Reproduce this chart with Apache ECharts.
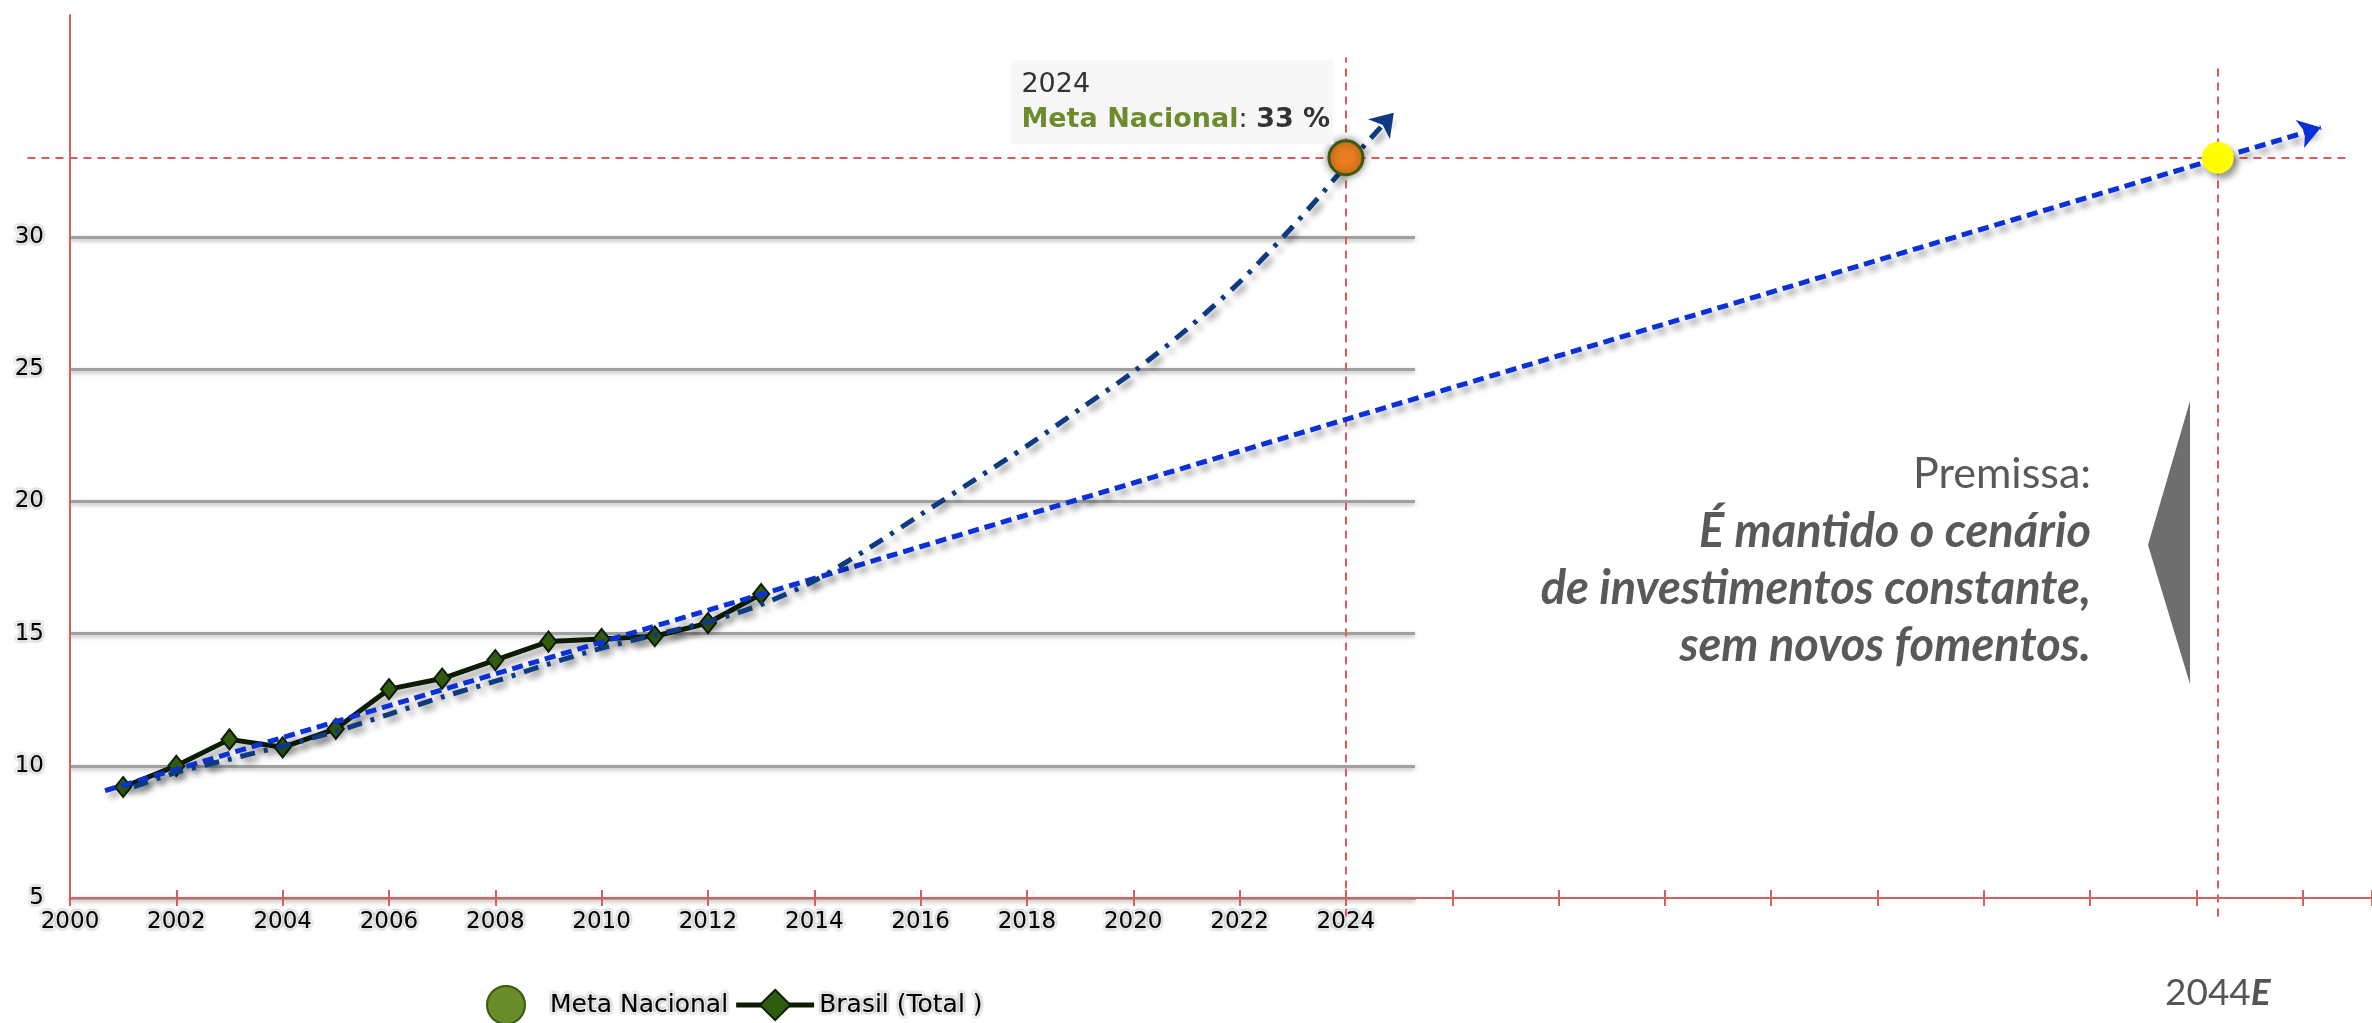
<!DOCTYPE html>
<html>
<head>
<meta charset="utf-8">
<title>Meta Nacional x Brasil (Total)</title>
<script src="https://cdn.jsdelivr.net/npm/echarts@6/dist/echarts.min.js"></script>
<style>
  html, body { margin: 0; padding: 0; background: #fff; }
  #chart { width: 2372px; height: 1023px; }
</style>
</head>
<body>
<div id="chart"></div>
<script>
// série Brasil (Total)
const brasilYears = [2001, 2002, 2003, 2004, 2005, 2006, 2007, 2008, 2009, 2010, 2011, 2012, 2013];
const brasilValues = [9.2, 10.0, 11.0, 10.7, 11.4, 12.9, 13.3, 14.0, 14.7, 14.8, 14.9, 15.4, 16.5];

// meta nacional
const metaYears = [2024];
const metaValues = [33];

// curva traço-ponto até a meta
const curveYears = [2001.2, 2002, 2003, 2004, 2005, 2006, 2007, 2008, 2009, 2010, 2011, 2012,
  2013, 2014, 2015, 2016, 2017, 2018, 2019, 2020, 2021, 2022, 2023, 2024];
const curveValues = [9.2, 9.75, 10.25, 10.75, 11.3, 11.95, 12.6, 13.2, 13.85, 14.45, 14.95, 15.45,
  16.1, 17.0, 18.2, 19.5, 20.8, 22.1, 23.5, 24.9, 26.5, 28.3, 30.4, 32.7];
const curveTipYears = [2024, 2024.9];
const curveTipValues = [32.7, 34.7];

// reta tracejada (investimento constante)
const trendYears = [2000.66, 2042.34];
const trendValues = [9.06, 34.14];

// ponto estimado
const projYears = [2040.4];
const projValues = [33];
const projLabel = ['2044', 'E'];

// eixos
const xMin = 2000, xStep = 2, xLastLabel = 2024;
const yMin = 5, yMax = 30, yStep = 5;

// extensão das linhas de referência tracejadas
const refBottom = 4.3, refTop = [36.8, 36.4], refLeft = 1999.2, refRight = 2042.8;

const red = '#d95f5f';
const labelFont = "'DejaVu Sans', sans-serif";
const halo = {
  color: '#000',
  fontFamily: labelFont,
  fontSize: 23,
  textBorderColor: '#fff',
  textBorderWidth: 3,
  textShadowColor: 'rgba(0,0,0,0.35)',
  textShadowBlur: 3
};
const shadow = {shadowColor: 'rgba(0,0,0,0.4)', shadowBlur: 6, shadowOffsetX: 4, shadowOffsetY: 5};

let myChart = echarts.init(document.getElementById('chart'));
myChart.setOption({
  animation: false,
  backgroundColor: '#fff',
  grid: [
    {left: 70, top: 237, width: 1345, height: 661},   // área do gráfico original
    {left: 70, top: 15, width: 2302, height: 883}     // extensão da projeção
  ],
  xAxis: [
    {
      gridIndex: 0, type: 'value', min: xMin, max: 2025.3, interval: xStep,
      axisLine: {lineStyle: {color: '#a8a8a8', width: 3}},
      axisTick: {length: 5, lineStyle: {color: '#9fb2c6'}},
      axisLabel: Object.assign({}, halo, {
        margin: 13,
        showMaxLabel: false,
        formatter: v => (v <= xLastLabel && v % xStep === 0) ? String(v) : ''
      }),
      splitLine: {show: false}
    },
    {
      gridIndex: 1, type: 'value', position: 'bottom', min: xMin, max: 2043.3, interval: xStep, z: 5,
      axisLine: {lineStyle: {color: red, width: 2}},
      axisTick: {length: 8, lineStyle: {color: red, width: 2}},
      axisLabel: {show: false},
      splitLine: {show: false}
    },
    {
      gridIndex: 1, type: 'value', position: 'bottom', min: xMin, max: 2043.3, interval: xStep, z: 5,
      axisLine: {lineStyle: {color: red, width: 2}},
      axisTick: {inside: true, length: 8, lineStyle: {color: red, width: 2}},
      axisLabel: {show: false},
      splitLine: {show: false}
    }
  ],
  yAxis: [
    {
      gridIndex: 0, type: 'value', min: yMin, max: yMax, interval: yStep,
      axisLine: {show: false},
      axisTick: {show: false},
      axisLabel: Object.assign({}, halo, {margin: 26}),
      splitLine: {
        lineStyle: {
          color: '#a0a0a0', width: 3,
          shadowColor: 'rgba(0,0,0,0.3)', shadowBlur: 4, shadowOffsetY: 2
        }
      }
    },
    {
      gridIndex: 1, type: 'value', min: yMin, max: 38.4, z: 5,
      axisLine: {show: true, lineStyle: {color: red, width: 2}},
      axisTick: {show: false},
      axisLabel: {show: false},
      splitLine: {show: false}
    }
  ],
  legend: {
    data: ['Meta Nacional', 'Brasil (Total )'],
    left: 481,
    top: 980,
    itemWidth: 78,
    itemHeight: 38,
    itemGap: 4,
    lineStyle: {width: 5},
    textStyle: Object.assign({}, halo, {fontSize: 25})
  },
  graphic: [
    {
      type: 'text',
      x: 2091,
      y: 446,
      style: {
        text: '{p|Premissa:}\n{b|É mantido o cenário}\n{b|de investimentos constante,}\n{b|sem novos fomentos.}',
        align: 'right',
        verticalAlign: 'top',
        rich: {
          p: {fontFamily: 'Lato', fontSize: 43, lineHeight: 57, fill: '#595959', align: 'right'},
          b: {fontFamily: 'Lato', fontSize: 47, lineHeight: 57, fill: '#595959', fontWeight: 'bold', fontStyle: 'italic', align: 'right'}
        }
      }
    },
    {
      type: 'polygon',
      shape: {points: [[2190, 401], [2148, 545], [2190, 684]]},
      style: {fill: '#6e6e6e'}
    }
  ],
  series: [
    {
      name: 'Referências',
      type: 'lines',
      coordinateSystem: 'cartesian2d',
      xAxisIndex: 1, yAxisIndex: 1,
      clip: false,
      silent: true,
      z: 2,
      symbol: ['none', 'none'],
      lineStyle: {color: red, width: 2, type: [8, 6], opacity: 1},
      label: {show: false},
      data: [
        {coords: [[metaYears[0], refBottom], [metaYears[0], refTop[0]]]},
        {
          coords: [[projYears[0], refBottom], [projYears[0], refTop[1]]],
          label: {
            show: true,
            position: 'start',
            distance: 58,
            formatter: '{a|' + projLabel[0] + '}{b|' + projLabel[1] + '}',
            rich: {
              a: {fontFamily: 'Lato', fontSize: 37, color: '#555'},
              b: {fontFamily: 'Lato', fontSize: 37, color: '#555', fontWeight: 'bold', fontStyle: 'italic'}
            }
          }
        },
        {coords: [[refLeft, metaValues[0]], [refRight, metaValues[0]]]}
      ]
    },
    {
      name: 'Meta Nacional',
      type: 'scatter',
      xAxisIndex: 1, yAxisIndex: 1,
      clip: false,
      z: 6,
      symbolSize: 34,
      itemStyle: {color: '#6a8c2a', borderColor: '#3a5a10', borderWidth: 3, opacity: 1},
      data: metaYears.map((x, i) => ({
        value: [x, metaValues[i]],
        itemStyle: {
          color: '#ea7f1f', borderColor: '#3a5a10', borderWidth: 3, opacity: 1,
          shadowColor: 'rgba(0,0,0,0.45)', shadowBlur: 8
        }
      })),
      label: {
        show: true,
        position: [-316, -79],
        backgroundColor: '#f7f7f7',
        padding: [7, 10],
        width: 302,
        formatter: p => '{y|' + p.value[0] + '}\n{n|' + p.seriesName + '}{c|: }{v|' + p.value[1] + ' %}',
        rich: {
          y: {fontFamily: 'DejaVu Sans', fontSize: 27, lineHeight: 35, color: '#333'},
          n: {fontFamily: 'DejaVu Sans', fontSize: 27, lineHeight: 35, color: '#6a8c2a', fontWeight: 'bold'},
          c: {fontFamily: 'DejaVu Sans', fontSize: 27, lineHeight: 35, color: '#333'},
          v: {fontFamily: 'DejaVu Sans', fontSize: 27, lineHeight: 35, color: '#333', fontWeight: 'bold'}
        }
      }
    },
    {
      name: 'Brasil (Total )',
      type: 'line',
      xAxisIndex: 1, yAxisIndex: 1,
      z: 3,
      data: brasilYears.map((x, i) => [x, brasilValues[i]]),
      symbol: 'diamond',
      symbolSize: [16, 20],
      lineStyle: Object.assign({color: '#0b1d00', width: 5}, shadow),
      itemStyle: {color: '#2f5c0f', borderColor: '#0b1d00', borderWidth: 2}
    },
    {
      name: 'Curva',
      type: 'line',
      xAxisIndex: 1, yAxisIndex: 1,
      z: 4,
      smooth: 0.3,
      showSymbol: false,
      data: curveYears.map((x, i) => [x, curveValues[i]]),
      lineStyle: Object.assign({color: '#0d3a80', width: 5, type: [15, 9, 4, 9]}, shadow)
    },
    {
      name: 'Curva seta',
      type: 'lines',
      coordinateSystem: 'cartesian2d',
      xAxisIndex: 1, yAxisIndex: 1,
      clip: false,
      z: 4,
      symbol: ['none', 'arrow'],
      symbolSize: 22,
      data: [{coords: curveTipYears.map((x, i) => [x, curveTipValues[i]])}],
      lineStyle: Object.assign({color: '#0d3a80', width: 5, type: [15, 9, 4, 9], opacity: 1}, shadow)
    },
    {
      name: 'Tendência',
      type: 'lines',
      coordinateSystem: 'cartesian2d',
      xAxisIndex: 1, yAxisIndex: 1,
      clip: false,
      z: 4,
      symbol: ['none', 'arrow'],
      symbolSize: 22,
      data: [{coords: trendYears.map((x, i) => [x, trendValues[i]])}],
      lineStyle: Object.assign({color: '#0a30d8', width: 5, type: [11, 6], opacity: 1}, shadow)
    },
    {
      name: 'Projeção',
      type: 'scatter',
      xAxisIndex: 1, yAxisIndex: 1,
      clip: false,
      z: 6,
      symbolSize: 32,
      data: projYears.map((x, i) => [x, projValues[i]]),
      itemStyle: Object.assign({color: '#ffff00', opacity: 1}, shadow)
    }
  ]
});
</script>
</body>
</html>
